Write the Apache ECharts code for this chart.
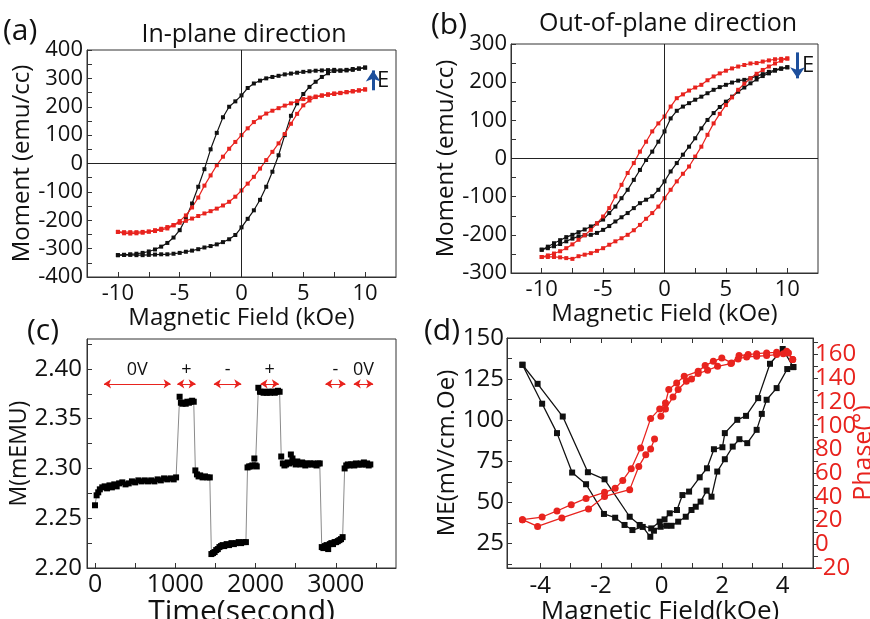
<!DOCTYPE html>
<html>
<head>
<meta charset="utf-8">
<script src="https://cdn.jsdelivr.net/npm/echarts@6/dist/echarts.min.js"></script>
<style>
  html, body { margin: 0; padding: 0; background: #fff; }
  #chart { width: 870px; height: 619px; }
</style>
</head>
<body>
<div id="chart"></div>
<script>
// ---- data ----
// (a) and (b): field sweep in kOe, moment in emu/cc
const fieldSweep = [-10, -9.5, -9, -8.5, -8, -7.5, -7, -6.5, -6, -5.5, -5, -4.5, -4, -3.5, -3, -2.5, -2, -1.5, -1, -0.5,
  0, 0.5, 1, 1.5, 2, 2.5, 3, 3.5, 4, 4.5, 5, 5.5, 6, 6.5, 7, 7.5, 8, 8.5, 9, 9.5, 10];

const inPlaneBlackDown = [-323, -322, -320, -318, -315, -310, -303, -293, -280, -261, -235, -194, -141, -82, -20, 50, 108, 163, 200, 219,
  240, 266, 282, 292, 300, 305, 309, 314, 317, 320, 323, 325, 327, 328, 329, 330, 328, 330, 333, 335, 338];
const inPlaneBlackUp = [-323, -322, -322, -323, -323, -322, -321, -320, -320, -318, -315, -311, -307, -302, -296, -291, -285, -277, -267, -252,
  -225, -195, -165, -128, -82, -29, 29, 100, 168, 212, 245, 270, 288, 305, 318, 326, 327, 328, 330, 334, 338];
const inPlaneRedDown = [-241, -242, -242, -242, -241, -240, -238, -234, -229, -218, -203, -183, -155, -120, -78, -42, -6, 24, 52, 76,
  100, 124, 146, 162, 176, 186, 195, 204, 212, 220, 227, 232, 236, 239, 242, 245, 248, 251, 254, 257, 261];
const inPlaneRedUp = [-241, -246, -247, -246, -244, -240, -235, -230, -224, -217, -209, -202, -194, -185, -176, -168, -159, -148, -135, -117,
  -95, -71, -47, -18, 12, 41, 71, 104, 140, 175, 205, 222, 234, 240, 244, 247, 249, 252, 255, 258, 261];

const outPlaneBlackDown = [-239, -231, -222, -214, -206, -200, -193, -186, -178, -170, -160, -143, -126, -104, -82, -56, -30, -4, 18, 44,
  71, 105, 125, 136, 145, 154, 162, 171, 180, 187, 193, 199, 204, 206, 210, 216, 221, 227, 232, 236, 239];
const outPlaneBlackUp = [-239, -235, -230, -224, -217, -210, -204, -201, -200, -195, -187, -177, -165, -154, -143, -130, -117, -108, -99, -82,
  -60, -34, -12, 10, 31, 53, 79, 101, 119, 135, 149, 162, 175, 186, 197, 207, 216, 223, 230, 235, 239];
const outPlaneRedDown = [-258, -254, -249, -243, -235, -225, -213, -201, -187, -170, -152, -130, -99, -69, -38, -12, 18, 44, 71, 92,
  110, 136, 158, 168, 178, 186, 193, 205, 215, 223, 230, 236, 241, 245, 249, 250, 254, 257, 260, 261, 262];
const outPlaneRedUp = [-258, -258, -258, -259, -261, -263, -256, -252, -248, -242, -235, -226, -217, -209, -200, -188, -174, -158, -143, -126,
  -104, -82, -60, -40, -21, 5, 31, 62, 92, 117, 140, 160, 180, 196, 210, 222, 232, 241, 249, 256, 262];

// (c): time in s, moment in mEMU
const timeSec = [0, 20, 40, 60, 90, 120, 150, 180, 210, 240, 270, 300, 340, 380, 420, 460, 500, 540, 580, 620,
  660, 700, 740, 780, 820, 860, 900, 940, 980, 1010,
  1054, 1070, 1090, 1110, 1130, 1150, 1170, 1190, 1210, 1230,
  1250, 1270, 1290, 1310, 1340, 1370, 1400, 1430,
  1450, 1470, 1490, 1510, 1530, 1550, 1570, 1590, 1610, 1640, 1670, 1700, 1730, 1760, 1790, 1820, 1850, 1880,
  1900, 1920, 1940, 1960, 1985, 2000, 2015,
  2035, 2055, 2075, 2100, 2120, 2140, 2160, 2180, 2200, 2220, 2240, 2260, 2280, 2300,
  2320, 2340, 2360, 2380, 2400, 2420, 2440, 2460, 2480, 2500, 2520, 2540, 2560, 2580, 2600, 2620, 2640, 2660, 2680, 2700,
  2720, 2740, 2760, 2780, 2800,
  2825, 2845, 2865, 2885, 2905, 2925, 2945, 2965, 2985, 3005, 3025, 3045, 3065, 3085,
  3110, 3130, 3150, 3170, 3190, 3210, 3230, 3250, 3270, 3290, 3310, 3330, 3350, 3370, 3390, 3410, 3430];
const momentM = [2.263, 2.273, 2.276, 2.279, 2.281, 2.282, 2.280, 2.283, 2.281, 2.284, 2.282, 2.285, 2.286, 2.284, 2.285, 2.287, 2.286, 2.288, 2.287, 2.288,
  2.287, 2.288, 2.287, 2.289, 2.288, 2.290, 2.289, 2.290, 2.289, 2.291,
  2.372, 2.366, 2.365, 2.366, 2.365, 2.367, 2.366, 2.367, 2.368, 2.367,
  2.298, 2.294, 2.292, 2.293, 2.291, 2.292, 2.291, 2.291,
  2.214, 2.215, 2.216, 2.218, 2.219, 2.221, 2.222, 2.223, 2.222, 2.224, 2.223, 2.225, 2.224, 2.225, 2.226, 2.225, 2.226, 2.226,
  2.301, 2.302, 2.302, 2.303, 2.310, 2.303, 2.302,
  2.381, 2.377, 2.377, 2.376, 2.377, 2.376, 2.377, 2.376, 2.377, 2.377, 2.376, 2.377, 2.378, 2.377,
  2.312, 2.305, 2.303, 2.304, 2.306, 2.305, 2.314, 2.310, 2.306, 2.304, 2.307, 2.305, 2.304, 2.306, 2.305, 2.303, 2.305, 2.304, 2.305, 2.304,
  2.305, 2.304, 2.303, 2.305, 2.305,
  2.221, 2.220, 2.222, 2.223, 2.219, 2.224, 2.225, 2.224, 2.226, 2.226, 2.227, 2.228, 2.229, 2.231,
  2.300, 2.303, 2.304, 2.303, 2.304, 2.304, 2.303, 2.305, 2.304, 2.304, 2.305, 2.304, 2.306, 2.304, 2.305, 2.303, 2.304];

// voltage intervals marked with red arrows in (c)
const voltStart = [112, 1025, 1481, 2062, 2871, 3224];
const voltEnd = [942, 1253, 1822, 2290, 3120, 3465];
const voltLabel = ['0V', '+', '-', '+', '-', '0V'];
const voltArrowY = 2.385;

// (d): ME coefficient (black, left axis) and phase (red, right axis)
const meFieldA = [-4.59, -4.09, -3.26, -2.43, -1.88, -1.05, -0.72, -0.34, -0.06, 0.10, 0.27, 0.51, 0.69, 0.91, 1.26, 1.50, 1.73, 2.01, 2.09, 2.50,
  2.79, 3.19, 3.58, 4.00, 4.35];
const meValueA = [133.7, 122.1, 102.2, 68.3, 64.0, 41.2, 36.2, 34.1, 38.2, 39.6, 43.3, 45.3, 54.4, 56.5, 65.2, 70.7, 82.3, 83.5, 92.1, 100.2,
  102.6, 113.4, 134.3, 143.3, 132.3];
const meFieldB = [-4.59, -3.94, -3.45, -2.95, -2.49, -1.90, -1.53, -1.22, -0.96, -0.62, -0.37, -0.25, -0.03, 0.16, 0.33, 0.55, 0.80, 0.99, 1.13, 1.29,
  1.49, 1.65, 1.84, 2.09, 2.35, 2.57, 2.83, 3.14, 3.31, 3.47, 3.80, 4.15, 4.35];
const meValueB = [133.7, 110.0, 92.1, 68.1, 61.0, 42.9, 40.6, 36.2, 33.1, 35.0, 29.0, 32.7, 35.1, 35.7, 35.7, 38.2, 41.2, 45.3, 47.3, 50.4,
  57.1, 53.4, 68.7, 76.2, 83.9, 88.4, 86.0, 94.1, 103.8, 112.4, 119.5, 131.1, 132.3];

const phaseFieldUpper = [-4.59, -3.94, -3.45, -2.98, -2.49, -1.88, -1.53, -1.28, -1.00, -0.69, -0.36, -0.06, 0.13, 0.24, 0.50, 0.75, 1.21, 1.44, 1.71, 1.99,
  2.31, 2.56, 2.86, 3.14, 3.47, 3.80, 4.13, 4.33];
const phaseUpper = [20.8, 23.0, 28.1, 33.4, 38.7, 43.8, 47.2, 53.9, 63.8, 81.3, 106, 114.2, 119.2, 130.5, 136.1, 141.7, 145.9, 150.7, 154.3, 157.2,
  153.0, 159.2, 160.0, 160.8, 161.4, 161.9, 162.8, 155.8];
const phaseFieldLower1 = [-4.59, -4.09, -3.29, -2.41, -1.88, -1.05, -0.75, -0.52, -0.36, -0.23];
const phaseLower1 = [20.8, 15.1, 22.2, 29.8, 40.4, 46.1, 65.7, 75.6, 80.4, 88.9];
const phaseFieldLower2 = [-0.02, 0.13, 0.38, 0.55, 0.82, 0.99, 1.21, 1.52, 1.85, 2.29, 2.53, 2.81, 3.14, 3.47, 3.80, 4.02, 4.19, 4.33];
const phaseLower2 = [108, 114.2, 124.2, 130.5, 137.5, 139.5, 144, 146.8, 150.1, 152.4, 156.3, 158, 158.6, 159.2, 160, 160.8, 161.4, 155.8];

// tick positions / labels
const loopFieldLabels = [-10, -5, 0, 5, 10];
const loopFieldTicks = [-10, -7.5, -5, -2.5, 0, 2.5, 5, 7.5, 10];
const inPlaneLabels = [-400, -300, -200, -100, 0, 100, 200, 300, 400];
const inPlaneTicks = [-400, -350, -300, -250, -200, -150, -100, -50, 0, 50, 100, 150, 200, 250, 300, 350, 400];
const outPlaneLabels = [-300, -200, -100, 0, 100, 200, 300];
const outPlaneTicks = [-300, -250, -200, -150, -100, -50, 0, 50, 100, 150, 200, 250, 300];
const timeLabels = [0, 1000, 2000, 3000];
const timeTicks = [0, 500, 1000, 1500, 2000, 2500, 3000, 3500];
const mLabels = [2.20, 2.25, 2.30, 2.35, 2.40];
const mTicks = [2.20, 2.225, 2.25, 2.275, 2.30, 2.325, 2.35, 2.375, 2.40, 2.425];
const meFieldLabels = [-4, -2, 0, 2, 4];
const meFieldTicks = [-4, -3, -2, -1, 0, 1, 2, 3, 4];
const meLabels = [25, 50, 75, 100, 125, 150];
const meTicks = [12.5, 25, 37.5, 50, 62.5, 75, 87.5, 100, 112.5, 125, 137.5, 150];
const phaseLabels = [-20, 0, 20, 40, 60, 80, 100, 120, 140, 160];
const phaseTicks = [-20, -10, 0, 10, 20, 30, 40, 50, 60, 70, 80, 90, 100, 110, 120, 130, 140, 150, 160, 170];

// ---- drawing ----
const FONT = 'Open Sans';
const BLACK = '#111';
const RED = '#e8231e';
const BLUE = '#1d4f9c';

function pairs(xs, ys) {
  return xs.map((x, i) => [x, ys[i]]);
}

function axis(o) {
  return {
    type: 'value',
    gridIndex: o.grid,
    position: o.position,
    min: o.min,
    max: o.max,
    name: o.name,
    nameLocation: 'middle',
    nameGap: o.nameGap,
    nameRotate: o.nameRotate,
    nameMoveOverlap: o.nameMove !== false,
    nameTextStyle: {fontSize: o.nameSize, color: o.nameColor || BLACK, fontFamily: FONT},
    axisLine: {show: o.line !== false, onZero: false, lineStyle: {color: '#333', width: 1}},
    axisTick: {show: !!o.ticks, inside: o.outside ? false : true, length: 5, customValues: o.ticks,
      lineStyle: {color: '#333', width: 1}},
    axisLabel: {show: !!o.labels, customValues: o.labels, fontSize: o.labelSize, margin: o.margin,
      showMinLabel: true, showMaxLabel: true, hideOverlap: false,
      color: o.labelColor || BLACK, fontFamily: FONT, formatter: o.formatter || (v => String(v))},
    splitLine: {show: false}
  };
}

function loopSeries(x, y, ys, color, extra) {
  return Object.assign({
    type: 'line',
    xAxisIndex: x,
    yAxisIndex: y,
    data: pairs(fieldSweep, ys),
    symbol: 'rect',
    symbolSize: 4,
    itemStyle: {color: color},
    lineStyle: {color: color, width: 1.2},
    silent: true
  }, extra || {});
}

const zeroLines = {
  silent: true,
  symbol: 'none',
  label: {show: false},
  lineStyle: {color: '#222', width: 1, type: 'solid'},
  data: [{xAxis: 0}, {yAxis: 0}]
};

function fieldArrow(x, y0, y1) {
  return {
    silent: true,
    symbol: ['none', 'arrow'],
    symbolSize: 11,
    label: {show: false},
    lineStyle: {color: BLUE, width: 3, type: 'solid'},
    data: [[{coord: [x, y0]}, {coord: [x, y1]}]]
  };
}

function text(str, x, y, size, align, color) {
  return {
    type: 'text',
    silent: true,
    style: {text: str, x: x, y: y, font: size + 'px "' + FONT + '"', fill: color || BLACK,
      textAlign: align || 'left', textVerticalAlign: 'middle'}
  };
}

// the phase labels sit closer than one line height, so they are split over two
// overlaid right axes to keep ECharts from dropping every other one
const phaseLabelsEven = phaseLabels.filter((v, i) => i % 2 === 0);
const phaseLabelsOdd = phaseLabels.filter((v, i) => i % 2 === 1);

const chart = echarts.init(document.getElementById('chart'));
const gridStyle = {show: true, borderColor: '#333', borderWidth: 1, containLabel: false, outerBoundsMode: 'none'};

chart.setOption({
  animation: false,
  textStyle: {fontFamily: FONT},
  grid: [
    Object.assign({left: 87, top: 50, width: 309, height: 227}, gridStyle),
    Object.assign({left: 511, top: 44, width: 307, height: 229}, gridStyle),
    Object.assign({left: 87, top: 339, width: 309, height: 229}, gridStyle),
    Object.assign({left: 507, top: 338, width: 306, height: 230}, gridStyle)
  ],
  xAxis: [
    axis({grid: 0, min: -12.5, max: 12.5, labels: loopFieldLabels, ticks: loopFieldTicks, labelSize: 22, margin: 6,
      name: 'Magnetic Field (kOe)', nameGap: 25, nameSize: 24}),
    axis({grid: 1, min: -12.5, max: 12.5, labels: loopFieldLabels, ticks: loopFieldTicks, labelSize: 22, margin: 6,
      name: 'Magnetic Field (kOe)', nameGap: 25, nameSize: 24}),
    axis({grid: 2, min: -100, max: 3750, labels: timeLabels, ticks: timeTicks, labelSize: 25, margin: 4,
      name: 'Time(second)', nameGap: 15, nameSize: 30}),
    axis({grid: 3, min: -5.1, max: 5.0, labels: meFieldLabels, ticks: meFieldTicks, labelSize: 24, margin: 6,
      name: 'Magnetic Field(kOe)', nameGap: 27, nameSize: 26}),
    axis({grid: 3, position: 'top', min: -5.1, max: 5.0, ticks: meFieldTicks})
  ],
  yAxis: [
    axis({grid: 0, min: -400, max: 400, labels: inPlaneLabels, ticks: inPlaneTicks, labelSize: 22, margin: 4,
      name: 'Moment (emu/cc)', nameGap: 53, nameSize: 24, nameRotate: 90}),
    axis({grid: 1, min: -300, max: 300, labels: outPlaneLabels, ticks: outPlaneTicks, labelSize: 22, margin: 4,
      name: 'Moment (emu/cc)', nameGap: 46, nameSize: 24, nameRotate: 90}),
    axis({grid: 2, min: 2.20, max: 2.43, labels: mLabels, ticks: mTicks, labelSize: 24, margin: 5,
      formatter: v => v.toFixed(2), name: 'M(mEMU)', nameGap: 50, nameSize: 23, nameRotate: 90}),
    axis({grid: 3, min: 10, max: 150, labels: meLabels, ticks: meTicks, labelSize: 24, margin: 3,
      name: 'ME(mV/cm.Oe)', nameGap: 43, nameSize: 24, nameRotate: 90}),
    axis({grid: 3, position: 'right', min: -20, max: 174, labels: phaseLabelsEven, ticks: phaseTicks, outside: true,
      labelSize: 24, margin: 2, labelColor: RED, name: 'Phase(°)', nameGap: 38, nameSize: 25, nameColor: RED,
      nameRotate: 90, nameMove: false}),
    axis({grid: 3, position: 'right', min: -20, max: 174, labels: phaseLabelsOdd, line: false,
      labelSize: 24, margin: 2, labelColor: RED})
  ],
  series: [
    loopSeries(0, 0, inPlaneBlackDown, BLACK, {markLine: zeroLines}),
    loopSeries(0, 0, inPlaneBlackUp, BLACK),
    loopSeries(0, 0, inPlaneRedDown, RED, {markLine: fieldArrow(10.65, 258, 328)}),
    loopSeries(0, 0, inPlaneRedUp, RED),
    loopSeries(1, 1, outPlaneBlackDown, BLACK, {markLine: zeroLines}),
    loopSeries(1, 1, outPlaneBlackUp, BLACK),
    loopSeries(1, 1, outPlaneRedDown, RED, {markLine: fieldArrow(10.83, 278, 210)}),
    loopSeries(1, 1, outPlaneRedUp, RED),
    {
      type: 'line',
      xAxisIndex: 2,
      yAxisIndex: 2,
      data: pairs(timeSec, momentM),
      symbol: 'rect',
      symbolSize: 6,
      itemStyle: {color: '#000'},
      lineStyle: {color: '#8a8a8a', width: 1},
      silent: true,
      markLine: {
        silent: true,
        symbol: ['arrow', 'arrow'],
        symbolSize: 7,
        lineStyle: {color: RED, width: 1, type: 'solid'},
        label: {show: true, position: 'insideMiddleTop', distance: 5, formatter: '{b}', fontSize: 18,
          color: BLACK, fontFamily: FONT},
        data: voltStart.map((s, i) => [{coord: [s, voltArrowY], name: voltLabel[i]}, {coord: [voltEnd[i], voltArrowY]}])
      }
    },
    {
      type: 'line', xAxisIndex: 3, yAxisIndex: 3, data: pairs(meFieldA, meValueA),
      symbol: 'rect', symbolSize: 6, itemStyle: {color: BLACK}, lineStyle: {color: BLACK, width: 1.3}, silent: true
    },
    {
      type: 'line', xAxisIndex: 3, yAxisIndex: 3, data: pairs(meFieldB, meValueB),
      symbol: 'rect', symbolSize: 6, itemStyle: {color: BLACK}, lineStyle: {color: BLACK, width: 1.3}, silent: true
    },
    {
      type: 'line', xAxisIndex: 3, yAxisIndex: 4, data: pairs(phaseFieldUpper, phaseUpper),
      symbol: 'circle', symbolSize: 7, itemStyle: {color: RED}, lineStyle: {color: RED, width: 1.3}, silent: true
    },
    {
      type: 'line', xAxisIndex: 3, yAxisIndex: 4, data: pairs(phaseFieldLower1, phaseLower1),
      symbol: 'circle', symbolSize: 7, itemStyle: {color: RED}, lineStyle: {color: RED, width: 1.3}, silent: true
    },
    {
      type: 'line', xAxisIndex: 3, yAxisIndex: 4, data: pairs(phaseFieldLower2, phaseLower2),
      symbol: 'circle', symbolSize: 7, itemStyle: {color: RED}, lineStyle: {color: RED, width: 1.3}, silent: true
    }
  ],
  graphic: [
    text('(a)', 3, 31, 30),
    text('In-plane direction', 244, 35, 25, 'center'),
    text('(b)', 431, 25, 30),
    text('Out-of-plane direction', 668, 24, 25, 'center'),
    text('(c)', 27, 331, 30),
    text('(d)', 424, 331, 30),
    text('E', 377, 81, 22),
    text('E', 802, 66, 22)
  ]
});
</script>
</body>
</html>
